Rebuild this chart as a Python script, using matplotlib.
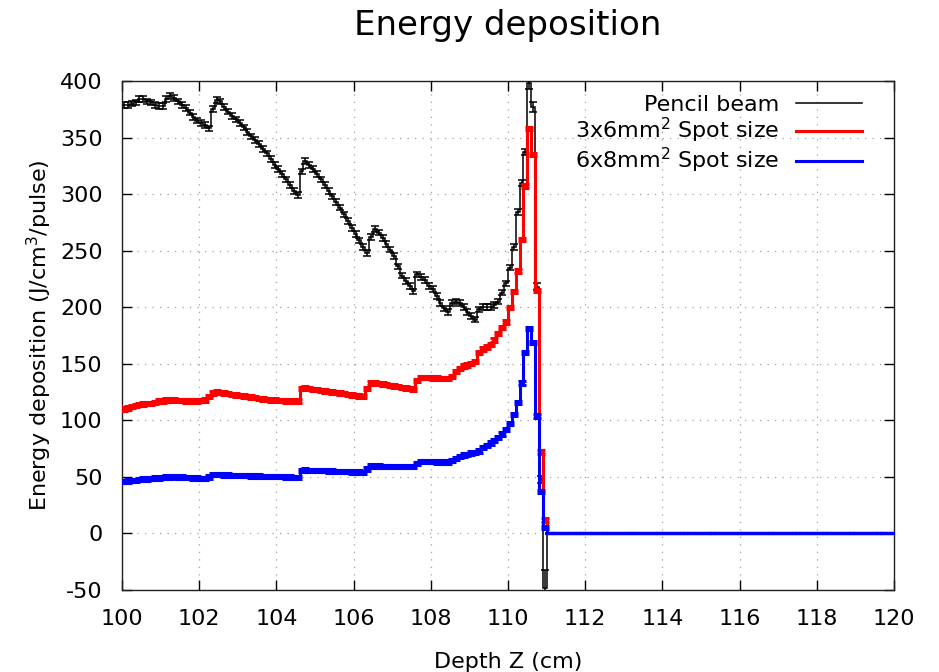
import numpy as np
import matplotlib
matplotlib.use('Agg')
import matplotlib.pyplot as plt
from matplotlib.lines import Line2D

# depth bins (cm), 0.1 cm wide, 100 -> 120
edges = np.linspace(100.0, 120.0, 201)
centers = 0.5 * (edges[:-1] + edges[1:])

# values for the bins 100.0 - 111.0, beyond that everything is 0
pencil = [379, 379, 380, 381, 384, 384, 382, 381, 379, 378,
          378, 384, 387, 385, 382, 379, 376, 372, 368, 365,
          363, 361, 358, 375, 383, 382, 377, 373, 369, 366,
          363, 359, 355, 351, 348, 344, 340, 336, 331, 326,
          322, 318, 313, 308, 303, 299, 320, 329, 326, 322,
          318, 313, 308, 303, 298, 293, 288, 282, 276, 270,
          265, 259, 253, 248, 262, 269, 266, 261, 256, 251,
          245, 236, 228, 223, 219, 214, 229, 227, 224, 219,
          216, 210, 204, 199, 196, 204, 205, 204, 200, 196,
          192, 189, 198, 200, 200, 200, 202, 205, 213, 221,
          235, 253, 284, 310, 337, 398, 377, 218, 48, -48]
spot_3x6 = [110, 111, 112, 113, 114, 114.5, 115, 115, 116, 117,
            117, 118, 118, 118, 117.5, 117.5, 117, 117, 117, 117,
            117.5, 118, 121, 124, 125, 124.5, 124, 123.5, 123, 122.5,
            122, 121.5, 121, 120.5, 120, 119.5, 119, 118.5, 118, 118,
            117.5, 117.5, 117, 117, 117, 117, 128, 128.5, 128, 127.5,
            127, 126.5, 126, 125.5, 125, 124.5, 124, 123.5, 123, 122.5,
            122, 121.5, 121, 128, 133, 133, 132.5, 132, 131.5, 131,
            130.5, 130, 129, 128.5, 128, 127, 135, 138, 138, 138,
            137.5, 137.5, 137, 137, 137, 139, 143, 146, 148, 149,
            150, 152, 160, 163, 165, 167, 171, 177, 182, 187,
            200, 214, 232, 260, 307, 358, 335, 215, 72, 12]
spot_6x8 = [46, 46.5, 47, 47, 47.5, 48, 48, 48.5, 49, 49,
            49.5, 50, 50, 50.5, 50, 50, 49.5, 49.5, 49, 49,
            48.5, 48.5, 50, 52, 52, 52, 51.8, 51.7, 51.5, 51.4,
            51.2, 51.1, 51, 50.9, 50.8, 50.7, 50.6, 50.5, 50.4, 50.3,
            50.2, 50.1, 50, 49.8, 49.7, 49.5, 55.5, 56, 55.8, 55.7,
            55.6, 55.5, 55.4, 55.3, 55.2, 55, 54.9, 54.8, 54.7, 54.5,
            54.4, 54.2, 54, 57, 59.5, 59.5, 59.5, 59.4, 59.3, 59.3,
            59.2, 59.2, 59.1, 59.1, 59, 59, 62, 63.5, 63.5, 63.4,
            63.4, 63.3, 63.2, 63.1, 63, 64.5, 66, 68, 69.5, 70,
            71, 71.5, 73, 76, 78, 80, 82, 85, 88, 92,
            97, 105, 116, 133, 160, 181, 169, 104, 37, 5]
tail = [0.0] * 90

pencil_err = [2.5] * 105 + [5, 4, 3, 3, 16]
spot_err = [1.5] * 110

series = [
    ('Pencil beam', pencil, pencil_err, 'black', 1.1),
    ('3x6mm$^2$ Spot size', spot_3x6, spot_err, '#ff0000', 2.2),
    ('6x8mm$^2$ Spot size', spot_6x8, spot_err, '#0000ff', 2.2),
]

plt.rcParams['font.family'] = ['DejaVu Sans']
plt.rcParams['axes.unicode_minus'] = False
fig = plt.figure(figsize=(9.39, 6.72), dpi=100)
ax = fig.add_axes([0.130, 0.122, 0.822, 0.7575])

handles = []
for label, vals, err, col, lw in series:
    y = np.array(vals + tail)
    e = np.array(err + tail)
    ax.stairs(y, edges, color=col, lw=lw, baseline=None, zorder=3)
    ax.errorbar(centers, y, yerr=e, fmt='none', ecolor=col, elinewidth=lw,
                capsize=3, capthick=lw, zorder=3)
    handles.append(Line2D([], [], color=col, lw=lw))

ax.set_xlim(100, 120)
ax.set_ylim(-50, 400)
ax.set_xticks(np.arange(100, 121, 2))
ax.set_yticks(np.arange(-50, 401, 50))
ax.grid(True, color='#a0a0a0', linestyle=(0, (1, 5)), lw=0.9, zorder=0)
ax.tick_params(direction='in', top=True, right=True, length=7, width=1,
               labelsize=16)
ax.tick_params(axis='x', pad=14)
ax.tick_params(axis='y', pad=14)
for s in ax.spines.values():
    s.set_color('#202020')
    s.set_linewidth(1)

ax.set_xlabel('Depth Z (cm)', fontsize=16, labelpad=16)
ax.set_ylabel('Energy deposition (J/cm$^3$/pulse)', fontsize=16, labelpad=4)
fig.text(508 / 939, 1 - 25 / 672, 'Energy deposition', fontsize=24.5,
         ha='center', va='center')

ax.legend(handles, [s[0] for s in series], loc='upper right', frameon=False,
          markerfirst=False, fontsize=16, handlelength=3.0, handletextpad=0.75,
          labelspacing=0.05, borderaxespad=0.5, bbox_to_anchor=(0.985, 1.012))

fig.savefig('out.png', dpi=100)
